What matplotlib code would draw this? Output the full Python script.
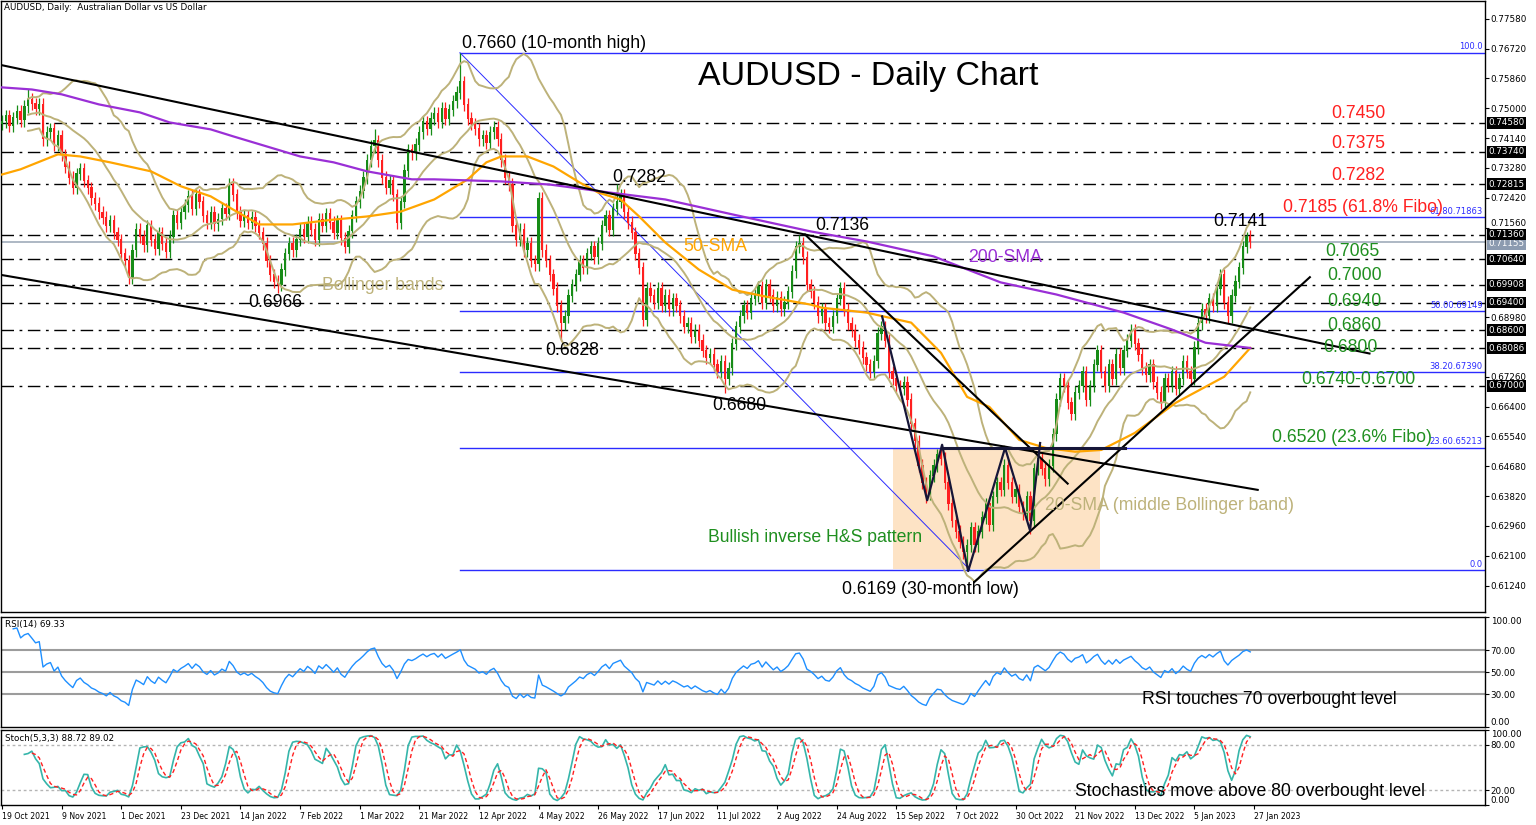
import numpy as np
import pandas as pd
import matplotlib
matplotlib.use("Agg")
import matplotlib.pyplot as plt
import matplotlib.transforms as mtransforms
from matplotlib.patches import Rectangle

# AUDUSD daily closes, one per bar (bar 0 = 19 Oct 2021)
close = [
    0.7462, 0.7478, 0.7450, 0.7472, 0.7490, 0.7465, 0.7505, 0.7525, 0.7512, 0.7498,
    0.7510, 0.7410, 0.7430, 0.7440, 0.7395, 0.7420, 0.7365, 0.7330, 0.7300, 0.7270,
    0.7310, 0.7325, 0.7290, 0.7270, 0.7240, 0.7225, 0.7200, 0.7185, 0.7160, 0.7175,
    0.7140, 0.7120, 0.7080, 0.7060, 0.7010, 0.7090, 0.7150, 0.7130, 0.7105, 0.7160,
    0.7120, 0.7095, 0.7140, 0.7110, 0.7085, 0.7130, 0.7190, 0.7170, 0.7200, 0.7220,
    0.7245, 0.7210, 0.7250, 0.7230, 0.7190, 0.7170, 0.7200, 0.7165, 0.7180, 0.7210,
    0.7195, 0.7280, 0.7250, 0.7200, 0.7175, 0.7190, 0.7170, 0.7185, 0.7160, 0.7140,
    0.7110, 0.7060, 0.7020, 0.7000, 0.6990, 0.7035, 0.7080, 0.7110, 0.7090, 0.7120,
    0.7150, 0.7130, 0.7170, 0.7150, 0.7120, 0.7180, 0.7160, 0.7195, 0.7170, 0.7140,
    0.7175, 0.7125, 0.7100, 0.7145, 0.7190, 0.7230, 0.7260, 0.7300, 0.7350, 0.7390,
    0.7405, 0.7350, 0.7300, 0.7270, 0.7290, 0.7250, 0.7170, 0.7230, 0.7320, 0.7380,
    0.7370, 0.7395, 0.7430, 0.7460, 0.7440, 0.7470, 0.7485, 0.7460, 0.7500, 0.7470,
    0.7495, 0.7520, 0.7545, 0.7575, 0.7510, 0.7470, 0.7455, 0.7440, 0.7410, 0.7420,
    0.7400, 0.7430, 0.7445, 0.7410, 0.7350, 0.7300, 0.7280, 0.7160, 0.7120, 0.7150,
    0.7090, 0.7110, 0.7060, 0.7050, 0.7240, 0.7090, 0.7060, 0.7020, 0.6980, 0.6930,
    0.6880, 0.6900, 0.6960, 0.6990, 0.7020, 0.7060, 0.7040, 0.7080, 0.7100, 0.7070,
    0.7110, 0.7160, 0.7190, 0.7150, 0.7210, 0.7230, 0.7250, 0.7200, 0.7170, 0.7140,
    0.7080, 0.7040, 0.6890, 0.6980, 0.6960, 0.6940, 0.6980, 0.6930, 0.6960, 0.6920,
    0.6950, 0.6930, 0.6900, 0.6870, 0.6880, 0.6840, 0.6860, 0.6830, 0.6800, 0.6780,
    0.6790, 0.6760, 0.6740, 0.6770, 0.6720, 0.6750, 0.6820, 0.6870, 0.6900, 0.6930,
    0.6910, 0.6950, 0.6960, 0.6985, 0.6940, 0.6990, 0.6960, 0.6930, 0.6955, 0.6920,
    0.6940, 0.6970, 0.7030, 0.7100, 0.7110, 0.7070, 0.6990, 0.6970, 0.6940, 0.6900,
    0.6920, 0.6880, 0.6870, 0.6900, 0.6950, 0.6980, 0.6920, 0.6880, 0.6860, 0.6830,
    0.6810, 0.6780, 0.6760, 0.6740, 0.6770, 0.6850, 0.6870, 0.6830, 0.6740, 0.6720,
    0.6700, 0.6690, 0.6710, 0.6660, 0.6590, 0.6540, 0.6470, 0.6420, 0.6390, 0.6440,
    0.6470, 0.6500, 0.6490, 0.6420, 0.6360, 0.6310, 0.6280, 0.6250, 0.6220, 0.6240,
    0.6290, 0.6240, 0.6280, 0.6320, 0.6360, 0.6300, 0.6380, 0.6420, 0.6400, 0.6470,
    0.6420, 0.6380, 0.6400, 0.6350, 0.6330, 0.6380, 0.6310, 0.6460, 0.6490, 0.6460,
    0.6430, 0.6470, 0.6560, 0.6660, 0.6720, 0.6700, 0.6650, 0.6620, 0.6680, 0.6700,
    0.6740, 0.6660, 0.6700, 0.6760, 0.6800, 0.6740, 0.6700, 0.6760, 0.6720, 0.6790,
    0.6750, 0.6800, 0.6830, 0.6860, 0.6820, 0.6790, 0.6750, 0.6730, 0.6760, 0.6710,
    0.6680, 0.6650, 0.6720, 0.6700, 0.6740, 0.6690, 0.6720, 0.6770, 0.6740, 0.6720,
    0.6810, 0.6880, 0.6920, 0.6900, 0.6950, 0.6930, 0.6980, 0.7020, 0.6940, 0.6900,
    0.6960, 0.7000, 0.7040, 0.7100, 0.7130, 0.7115,
]
first_open = 0.7455
wick = 0.0018
# labelled extremes (bar: price)
high_marks = {7: 0.7555, 100: 0.7440, 123: 0.7660, 165: 0.7282, 214: 0.7136, 334: 0.7142}
low_marks = {34: 0.6993, 74: 0.6966, 150: 0.6828, 194: 0.6680, 248: 0.6362, 259: 0.6169, 276: 0.6272}

# moving averages (bar, value)
sma50_bar = [0, 5, 15, 21, 29, 40, 48, 56, 62, 69, 78, 89, 98, 107, 116, 125, 130, 134, 141,
             148, 155, 160, 166, 171, 178, 187, 196, 205, 217, 220, 232, 244, 252, 259, 265,
             273, 280, 288, 295, 304, 315, 328, 335]
sma50_val = [0.7309, 0.7324, 0.7367, 0.7361, 0.7344, 0.7318, 0.7275, 0.7246, 0.7208, 0.7165,
             0.7165, 0.7179, 0.7188, 0.7202, 0.7237, 0.7295, 0.7344, 0.7361, 0.7361, 0.7332,
             0.7286, 0.7257, 0.7237, 0.7188, 0.7113, 0.7035, 0.6977, 0.6957, 0.6934, 0.6925,
             0.6911, 0.6882, 0.6795, 0.6668, 0.6639, 0.6544, 0.6521, 0.6510, 0.6515, 0.6564,
             0.6651, 0.6726, 0.6809]
sma200_bar = [0, 8, 16, 26, 37, 45, 56, 62, 71, 80, 89, 98, 110, 116, 134, 147, 163, 178, 196,
              217, 232, 250, 268, 283, 301, 314, 323, 335]
sma200_val = [0.7560, 0.7554, 0.7540, 0.7511, 0.7488, 0.7459, 0.7439, 0.7419, 0.7390, 0.7361,
              0.7344, 0.7318, 0.7295, 0.7295, 0.7289, 0.7280, 0.7257, 0.7237, 0.7194, 0.7145,
              0.7116, 0.7073, 0.6998, 0.6963, 0.6911, 0.6862, 0.6824, 0.6809]

# levels
dash_levels = [0.7458, 0.7374, 0.72815, 0.7136, 0.7064, 0.69908, 0.6940, 0.6860, 0.68086, 0.6700]
fib_levels = [0.7660, 0.71863, 0.69149, 0.67390, 0.65213, 0.6169]
fib_names = ['100.0', '61.80.71863', '50.00.69149', '38.20.67390', '23.60.65213', '0.0']
last_price = 0.71155
price_ticks = [0.6124, 0.6210, 0.6296, 0.6382, 0.6468, 0.6554, 0.6640, 0.6726, 0.6812, 0.6898,
               0.6984, 0.7070, 0.7156, 0.7242, 0.7328, 0.7414, 0.7500, 0.7586, 0.7672, 0.7758]

# drawn objects in (bar, price)
chan_upper = [(-0.5, 0.7625), (367, 0.6793)]
chan_lower = [(-0.5, 0.7020), (337, 0.6400)]
down_line = [(215.5, 0.7136), (286, 0.6418)]
up_line = [(261, 0.6135), (351, 0.7013)]
neck = [(252.3, 0.6520), (301.4, 0.6520)]
hs_path = [(236.2, 0.6900), (248.3, 0.6370), (252.3, 0.6530), (259.3, 0.6166),
           (269.2, 0.6521), (275.9, 0.6283), (278.6, 0.6535)]
fib_diag = [(122.9, 0.7660), (259.8, 0.6169)]
hs_box = (239, 294.7, 0.6172, 0.6520)

date_labels = ['19 Oct 2021', '9 Nov 2021', '1 Dec 2021', '23 Dec 2021', '14 Jan 2022',
               '7 Feb 2022', '1 Mar 2022', '21 Mar 2022', '12 Apr 2022', '4 May 2022',
               '26 May 2022', '17 Jun 2022', '11 Jul 2022', '2 Aug 2022', '24 Aug 2022',
               '15 Sep 2022', '7 Oct 2022', '30 Oct 2022', '21 Nov 2022', '13 Dec 2022',
               '5 Jan 2023', '27 Jan 2023']

GREEN = '#178c17'
RED = '#ff1f1f'
BOLL = '#bdb27a'
ORANGE = '#ffa500'
PURPLE = '#9a2fd6'
FIB = '#2b2bff'
TXT_GREEN = '#1f8f1f'
TXT_RED = '#ff2020'

plt.rcParams['font.family'] = ['Liberation Sans', 'DejaVu Sans']

W, H = 1536, 825
fig = plt.figure(figsize=(W / 100, H / 100), dpi=100)


def box(left, top, right, bottom):
    return [left / W, 1 - bottom / H, (right - left) / W, (bottom - top) / H]


def px(x, y):
    return x / W, 1 - y / H


ax = fig.add_axes(box(1, 1, 1485, 612))
ax_rsi = fig.add_axes(box(1, 617, 1485, 727), sharex=ax)
ax_st = fig.add_axes(box(1, 730, 1485, 805), sharex=ax)

# candles
c = np.array(close)
n = len(c)
o = np.concatenate([[first_open], c[:-1]])
hi = np.maximum(o, c) + wick
lo = np.minimum(o, c) - wick
for k, v in high_marks.items():
    hi[k] = v
for k, v in low_marks.items():
    lo[k] = v
idx = np.arange(n)
cols = np.where(c >= o, GREEN, RED)
ax.vlines(idx, lo, hi, colors=cols, lw=0.9, zorder=4)
ax.bar(idx, np.abs(c - o) + 0.0002, bottom=np.minimum(o, c), width=0.62,
       color=cols, linewidth=0, zorder=4)

# indicators
s = pd.Series(c)
mid = s.rolling(20, min_periods=8).mean()
sd = s.rolling(20, min_periods=8).std(ddof=0)
for band in (mid, mid + 2 * sd, mid - 2 * sd):
    ax.plot(idx, band, color=BOLL, lw=1.4, zorder=5)
ax.plot(sma50_bar, sma50_val, color=ORANGE, lw=1.6, zorder=5)
ax.plot(sma200_bar, sma200_val, color=PURPLE, lw=1.6, zorder=5)

# horizontal levels
for lv in dash_levels:
    ax.axhline(lv, color='black', lw=1, ls=(0, (9, 4, 2, 4)), zorder=2)
ax.axhline(last_price, color='#a7b2bf', lw=1.3, zorder=2)
for lv in fib_levels:
    ax.plot([fib_diag[0][0], 400], [lv, lv], color=FIB, lw=1, zorder=2)
ax.plot(*zip(*fib_diag), color=FIB, lw=0.7, zorder=2)
ax.add_patch(Rectangle((hs_box[0], hs_box[2]), hs_box[1] - hs_box[0], hs_box[3] - hs_box[2],
                       facecolor='#fde3c5', edgecolor='none', zorder=1))

# trend lines
for ln in (chan_upper, chan_lower, down_line, up_line):
    ax.plot(*zip(*ln), color='black', lw=1.5, zorder=6)
ax.plot(*zip(*neck), color='#161638', lw=2.2, zorder=6)
ax.plot(*zip(*hs_path), color='#161638', lw=1.6, zorder=6)

ax.set_xlim(-0.27, 398)
ax.set_ylim(0.6048, 0.7809)

# right price axis
tick_keep = [t for t in price_ticks
             if min(abs(t - b) for b in dash_levels + [last_price]) > 0.0009]
ax.yaxis.tick_right()
ax.set_yticks(tick_keep)
ax.set_yticklabels(['%.5f' % t for t in tick_keep], fontsize=6.3, family='DejaVu Sans')
ax.tick_params(axis='y', length=3, width=0.8, pad=1)
ax.tick_params(axis='x', bottom=False, labelbottom=False)
for t, lab in zip(tick_keep, ax.get_yticklabels()):
    if abs(t - 0.7156) < 1e-6:
        lab.set_va('bottom')  # sits just above the 0.71360 box
tr = mtransforms.blended_transform_factory(ax.transAxes, ax.transData)
for lv in dash_levels:
    ax.text(1.0025, lv, '%.5f' % lv, transform=tr, fontsize=6.3, family='DejaVu Sans',
            color='white', va='center', ha='left', clip_on=False, zorder=8,
            bbox=dict(facecolor='black', edgecolor='none', pad=1.0))
ax.text(1.0025, last_price - 0.0006, '%.5f' % last_price, transform=tr, fontsize=6.3,
        family='DejaVu Sans', color='white', va='center', ha='left', clip_on=False, zorder=7,
        bbox=dict(facecolor='#8c9bb0', edgecolor='none', pad=1.0))
for lv, nm in zip(fib_levels, fib_names):
    ax.text(0.9985, lv + 0.0004, nm, transform=tr, fontsize=6, family='DejaVu Sans',
            color=FIB, va='bottom', ha='right', zorder=7)

# RSI
d = s.diff()
gain = d.clip(lower=0).ewm(alpha=1 / 14, adjust=False, min_periods=3).mean()
loss = (-d.clip(upper=0)).ewm(alpha=1 / 14, adjust=False, min_periods=3).mean()
rsi = 100 - 100 / (1 + gain / loss)
for lv in (30, 50, 70):
    ax_rsi.axhline(lv, color='#9c9c9c', lw=1.5)
ax_rsi.plot(idx, rsi, color='#1e8fff', lw=1)
ax_rsi.set_ylim(0, 100)
ax_rsi.yaxis.tick_right()
ax_rsi.set_yticks([0, 30, 50, 70, 100])
ax_rsi.set_yticklabels(['0.00', '30.00', '50.00', '70.00', '100.00'], fontsize=6.3,
                       family='DejaVu Sans')
ax_rsi.tick_params(axis='y', length=3, width=0.8, pad=1)
ax_rsi.tick_params(axis='x', bottom=False, labelbottom=False)
rl = ax_rsi.get_yticklabels()
rl[0].set_va('bottom')
rl[-1].set_va('top')

# Stochastic 5,3,3
hh = pd.Series(hi).rolling(5).max()
ll = pd.Series(lo).rolling(5).min()
k_line = (s - ll).rolling(3).sum() / (hh - ll).rolling(3).sum() * 100
d_line = k_line.rolling(3).mean()
for lv in (20, 80):
    ax_st.axhline(lv, color='#b4b4b4', lw=1, ls=(0, (2, 2)))
ax_st.plot(idx, k_line, color='#35b5aa', lw=1.2)
ax_st.plot(idx, d_line, color='#ff2020', lw=1, ls=(0, (3, 2)))
ax_st.set_ylim(0, 100)
ax_st.yaxis.tick_right()
ax_st.set_yticks([0, 20, 80, 100])
ax_st.set_yticklabels(['0.00', '20.00', '80.00', '100.00'], fontsize=6.3, family='DejaVu Sans')
ax_st.tick_params(axis='y', length=3, width=0.8, pad=1)
sl = ax_st.get_yticklabels()
sl[0].set_va('bottom')
sl[-1].set_va('top')
ax_st.set_xticks(np.arange(len(date_labels)) * 16)
ax_st.set_xticklabels(date_labels, fontsize=5.6, family='DejaVu Sans', ha='left')
ax_st.tick_params(axis='x', length=3, width=0.8, pad=2)

for a in (ax, ax_rsi, ax_st):
    for sp in a.spines.values():
        sp.set_color('black')
        sp.set_linewidth(1)

# texts
fig.text(*px(4, 8), 'AUDUSD, Daily:  Australian Dollar vs US Dollar', fontsize=6.3,
         family='DejaVu Sans', va='center')
fig.text(*px(5, 624), 'RSI(14) 69.33', fontsize=6.3, family='DejaVu Sans', va='center')
fig.text(*px(5, 738), 'Stoch(5,3,3) 88.72 89.02', fontsize=6.3, family='DejaVu Sans',
         va='center')
fig.text(*px(868, 77), 'AUDUSD - Daily Chart', fontsize=24.4, ha='center', va='center')

FS = 12.7
notes = [
    (462, 44, '0.7660 (10-month high)', 'black'),
    (612, 177, '0.7282', 'black'),
    (815, 226, '0.7136', 'black'),
    (248, 303, '0.6966', 'black'),
    (545, 350, '0.6828', 'black'),
    (712, 405, '0.6680', 'black'),
    (842, 590, '0.6169 (30-month low)', 'black'),
    (1213, 221, '0.7141', 'black'),
    (322, 286, 'Bollinger bands', BOLL),
    (683, 247, '50-SMA', ORANGE),
    (968, 257, '200-SMA', PURPLE),
    (1045, 505, '20-SMA (middle Bollinger band)', BOLL),
    (708, 538, 'Bullish inverse H&S pattern', TXT_GREEN),
    (1331, 113, '0.7450', TXT_RED),
    (1331, 143, '0.7375', TXT_RED),
    (1331, 175, '0.7282', TXT_RED),
    (1283, 207, '0.7185 (61.8% Fibo)', TXT_RED),
    (1325, 252, '0.7065', TXT_GREEN),
    (1327, 276, '0.7000', TXT_GREEN),
    (1327, 301, '0.6940', TXT_GREEN),
    (1327, 325, '0.6860', TXT_GREEN),
    (1323, 347, '0.6800', TXT_GREEN),
    (1301, 379, '0.6740-0.6700', TXT_GREEN),
    (1272, 437, '0.6520 (23.6% Fibo)', TXT_GREEN),
    (1142, 700, 'RSI touches 70 overbought level', 'black'),
    (1075, 791, 'Stochastics move above 80 overbought level', 'black'),
]
for x, y, t, col in notes:
    fig.text(*px(x, y), t, fontsize=FS, color=col, ha='left', va='center', zorder=10)

fig.savefig('out.png', dpi=100, facecolor='white')
